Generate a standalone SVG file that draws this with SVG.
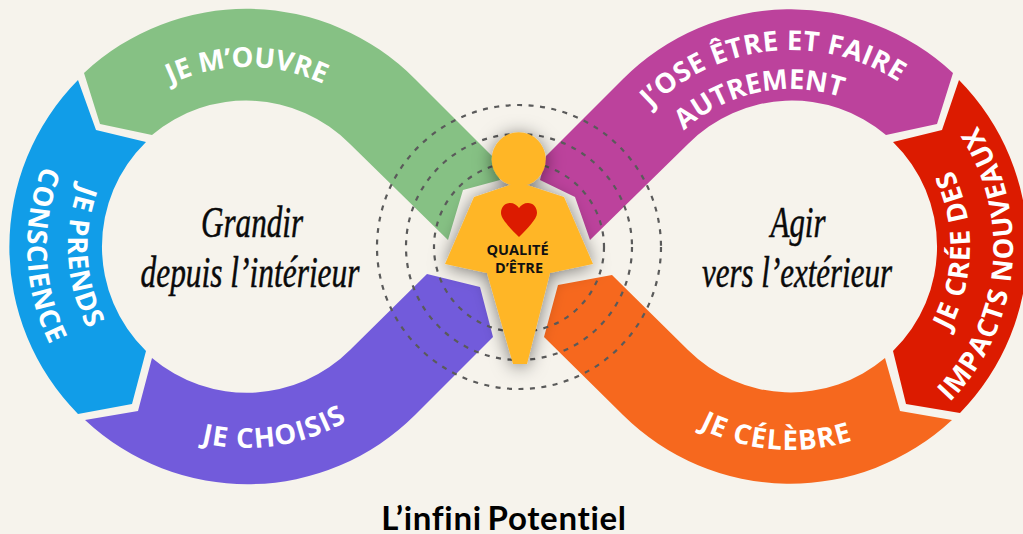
<svg xmlns="http://www.w3.org/2000/svg" width="1023" height="534" viewBox="0 0 1023 534">
<style>
.lab{font-family:"Open Sans","Liberation Sans",sans-serif;font-weight:700;font-size:27.5px;fill:#fff;text-anchor:middle}
.wide{letter-spacing:1.1px}
.scr{font-family:"Liberation Serif",serif;font-style:italic;font-size:45px;fill:#0a0a0a;stroke:#0a0a0a;stroke-width:.5;text-anchor:middle}
.ring{fill:none;stroke:#5a5a5a;stroke-width:2.2;stroke-dasharray:5 6.5}
.q{font-family:"Open Sans","Liberation Sans",sans-serif;font-weight:700;font-size:14.5px;fill:#111;text-anchor:middle}
</style>
<defs>
<filter id="sh" x="-40%" y="-40%" width="180%" height="180%"><feDropShadow dx="0" dy="2" stdDeviation="9" flood-color="#000" flood-opacity=".5"/></filter>
<path id="lt180" d="M67 247A180 180 0 0 1 427 247"/>
<path id="lb201" d="M46 247A201 201 0 0 0 448 247"/>
<path id="ll220" d="M247 27A220 220 0 0 0 247 467"/>
<path id="ll179" d="M247 68A179 179 0 0 0 247 426"/>
<path id="rt197" d="M594 247A197 197 0 0 1 988 247"/>
<path id="rt158" d="M633 247A158 158 0 0 1 949 247"/>
<path id="rb203" d="M588 247A203 203 0 0 0 994 247"/>
<path id="rr179" d="M791 426A179 179 0 0 0 791 68"/>
<path id="rr222" d="M791 469A222 222 0 0 0 791 25"/>
</defs>
<rect width="1023" height="534" fill="#f6f3ec"/>

<g id="je-prends-conscience">
<path fill="#119de8" d="M78 80A237.5 237.5 0 0 0 78 414L132 404L146 351A146 146 0 0 1 146 142L96 130Z"/>
<text class="lab wide" transform="rotate(-2.5 247 247)"><textPath href="#ll220" startOffset="50%">CONSCIENCE</textPath></text>
<text class="lab wide" transform="rotate(-3.5 247 247)"><textPath href="#ll179" startOffset="50%">JE PRENDS</textPath></text>
</g>
<g id="je-m-ouvre">
<path fill="#86c184" d="M84 73A237.5 237.5 0 0 1 415 79L493 157L500 180L463 190L448 240L350 144A146 146 0 0 0 152 135L100 124Z"/>
<text class="lab"><textPath href="#lt180" startOffset="50%">JE M’OUVRE</textPath></text>
</g>
<g id="je-choisis">
<path fill="#725bdb" d="M85 420A237.5 237.5 0 0 0 415 415L493 337L480 287L427 274L350 350A146 146 0 0 1 152 358L138 411Z"/>
<text class="lab wide" transform="rotate(-8.5 247 247)"><textPath href="#lb201" startOffset="50%">JE CHOISIS</textPath></text>
</g>
<g id="j-ose">
<path fill="#bc429c" d="M953 73A237.5 237.5 0 0 0 623 79L546 156L540 180L575 197L590 240L688 144A146 146 0 0 1 886 135L937 124Z"/>
<text class="lab" style="letter-spacing:.4px" transform="rotate(-6 791 247)"><textPath href="#rt197" startOffset="50%">J’OSE ÊTRE ET FAIRE</textPath></text>
<text class="lab" transform="rotate(-12 791 247)"><textPath href="#rt158" startOffset="50%">AUTREMENT</textPath></text>
</g>
<g id="je-cree">
<path fill="#dc1b00" d="M959 80A237.5 237.5 0 0 1 960 413L906 404L893 351A146 146 0 0 0 893 142L942 130Z"/>
<text class="lab wide" transform="rotate(1 791 247)"><textPath href="#rr179" startOffset="50%">JE CRÉE DES</textPath></text>
<text class="lab wide" transform="rotate(5.5 791 247)"><textPath href="#rr222" startOffset="50%">IMPACTS NOUVEAUX</textPath></text>
</g>
<g id="je-celebre">
<path fill="#f6681e" d="M952 420A237.5 237.5 0 0 1 623 415L544 337L558 285L612 275L688 350A146 146 0 0 0 885 358L900 411Z"/>
<text class="lab wide" transform="rotate(4.5 791 247)"><textPath href="#rb203" startOffset="50%">JE CÉLÈBRE</textPath></text>
</g>

<g id="rings">
<circle class="ring" cx="519" cy="247" r="142"/>
<circle class="ring" cx="519" cy="247" r="113"/>
<circle class="ring" cx="519" cy="247" r="85"/>
</g>

<g id="qualite-d-etre">
<g filter="url(#sh)" fill="#ffb628">
<circle cx="518.7" cy="159.3" r="27"/>
<path d="M510 185L474 197L445 264L487 273L513 364L527 364L550 273L593 264L564 197L527 185Z"/>
</g>
<path fill="#dc1b00" d="M519 237C511 229 501 219 501 213C501 207 505 203 510 203C514 203 517 205 519 208C521 205 524 203 528 203C533 203 537 207 537 213C537 219 527 229 519 237Z"/>
<text class="q" x="517.500" y="255">QUALITÉ</text>
<text class="q" x="519" y="273">D’ÊTRE</text>
</g>

<g id="grandir">
<text class="scr" x="252" y="237" textLength="102" lengthAdjust="spacingAndGlyphs">Grandir</text>
<text class="scr" x="250" y="287" textLength="219" lengthAdjust="spacingAndGlyphs">depuis l’intérieur</text>
</g>
<g id="agir">
<text class="scr" x="798" y="237" textLength="55" lengthAdjust="spacingAndGlyphs">Agir</text>
<text class="scr" x="797" y="287" textLength="190" lengthAdjust="spacingAndGlyphs">vers l’extérieur</text>
</g>
<text id="title" x="504" y="530" font-family="Lato,'Liberation Sans',sans-serif" font-weight="700" font-size="33" fill="#000" text-anchor="middle" style="font-variant-ligatures:none;letter-spacing:.7px;word-spacing:-3px">L’infini Potentiel</text>
</svg>
